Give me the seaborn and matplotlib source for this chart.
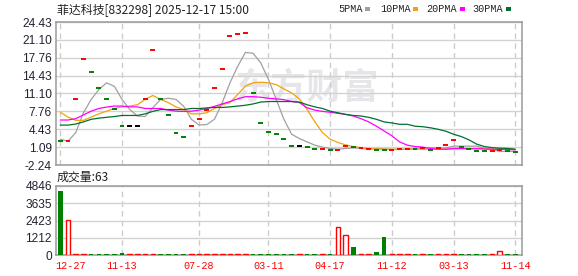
import numpy as np
import pandas as pd
import matplotlib
matplotlib.use("Agg")
import matplotlib.pyplot as plt
import matplotlib.transforms as mtransforms
import seaborn as sns
from matplotlib.patches import Rectangle

sns.set_theme(style="white")
plt.rcParams['font.family'] = ['Liberation Sans', 'DejaVu Sans']

# ---------------- data ----------------
close = [2.15, 2.15, 10.11, 17.52, 15.11, 12.15, 10.11, 8.13, 5.11, 5.11,
         5.11, 10.11, 19.18, 10.11, 7.15, 3.81, 3.07, 5.11, 6.28, 8.0,
         12.2, 15.67, 21.83, 22.14, 22.33, 11.28, 5.66, 3.99, 3.63, 2.57,
         1.22, 1.22, 1.15, 0.66, 0.66, 0.48, 0.48, 1.28, 1.1, 0.9,
         0.66, 0.48, 0.48, 0.48, 0.66, 0.66, 0.66, 0.85, 0.48, 0.85,
         1.4, 2.33, 1.2, 0.66, 0.29, 0.29, 0.29, 0.5, 0.3, 0.1]
kind = ['g', 'r', 'r', 'r', 'g', 'g', 'g', 'g', 'g', 'k',
        'k', 'r', 'r', 'g', 'g', 'g', 'g', 'r', 'r', 'r',
        'r', 'r', 'r', 'r', 'r', 'g', 'g', 'g', 'g', 'g',
        'g', 'k', 'g', 'g', 'r', 'g', 'r', 'r', 'g', 'r',
        'r', 'g', 'g', 'r', 'r', 'r', 'g', 'r', 'g', 'r',
        'r', 'r', 'g', 'g', 'g', 'g', 'r', 'r', 'g', 'g']
ma5 = [2.57, 2.2, 3.8, 7.5, 9.98, 11.83, 13.07, 12.45, 10.0, 8.13,
       6.9, 6.8, 8.44, 10.0, 10.2, 10.0, 8.7, 6.28, 5.22, 5.3,
       6.3, 9.37, 13.07, 16.15, 18.75, 18.6, 16.8, 13.7, 10.0, 6.28,
       3.5, 2.7, 2.07, 1.46, 1.09, 0.85, 0.7, 0.85, 0.95, 0.85,
       0.7, 0.85, 0.75, 0.66, 0.66, 0.7, 0.8, 0.95, 0.95, 0.95,
       0.95, 1.28, 1.28, 1.28, 1.28, 0.85, 0.6, 0.29, 0.29, 0.29]
ma10 = [7.6, 6.7, 6.09, 6.09, 6.7, 7.3, 7.8, 8.3, 8.6, 8.75,
        9.0, 10.0, 10.72, 10.0, 9.4, 8.6, 8.1, 7.3, 7.3, 7.5,
        8.3, 9.0, 9.4, 10.9, 12.45, 13.1, 13.2, 13.1, 12.75, 11.96,
        11.2, 10.1, 8.13, 5.84, 3.8, 2.57, 1.96, 1.52, 1.2, 1.0,
        0.85, 0.75, 0.7, 0.7, 0.7, 0.7, 0.7, 0.7, 0.7, 0.7,
        0.7, 0.75, 0.8, 0.8, 0.8, 0.8, 0.75, 0.7, 0.7, 0.7]
ma20 = [6.15, 6.15, 6.4, 7.1, 7.8, 8.3, 8.56, 8.75, 8.75, 8.6,
        8.6, 8.3, 8.3, 8.3, 8.0, 7.8, 7.75, 7.8, 8.0, 8.3,
        8.7, 9.15, 9.6, 10.1, 10.5, 10.5, 10.4, 10.2, 10.1, 9.95,
        9.6, 9.4, 8.44, 8.0, 7.76, 7.6, 7.4, 7.2, 6.9, 6.4,
        5.8, 5.0, 4.1, 3.2, 2.07, 1.46, 1.2, 1.1, 0.85, 0.7,
        0.7, 0.85, 0.85, 0.8, 0.8, 0.75, 0.7, 0.7, 0.65, 0.6]
ma30 = [5.2, 5.2, 5.4, 5.8, 6.28, 6.5, 6.65, 6.8, 7.0, 7.0,
        7.0, 7.3, 7.76, 8.1, 8.1, 8.1, 8.1, 8.3, 8.3, 8.4,
        8.5, 8.5, 8.6, 8.75, 8.9, 9.15, 9.5, 9.6, 9.6, 9.6,
        9.6, 9.5, 9.0, 8.6, 8.3, 7.8, 7.5, 7.2, 7.0, 6.9,
        6.65, 6.28, 5.8, 5.6, 5.35, 5.35, 5.0, 4.9, 4.7, 4.42,
        4.06, 3.5, 3.07, 2.45, 1.65, 1.2, 1.0, 0.9, 0.85, 0.7]
vol = [4475, 2430, 40, 40, 40, 40, 40, 40, 150, 40,
       40, 40, 40, 40, 40, 40, 40, 40, 40, 40,
       40, 40, 40, 40, 40, 40, 40, 40, 40, 40,
       40, 40, 40, 40, 40, 40, 1940, 1380, 560, 40,
       40, 210, 1260, 40, 40, 40, 40, 40, 40, 40,
       40, 40, 40, 40, 40, 40, 40, 280, 40, 63]
x_labels = ['12-27', '11-13', '07-28', '03-11', '04-17', '11-12', '03-13', '11-14']
x_label_idx = [0, 8, 18, 27, 35, 43, 51, 59]
price_ticks = [-2.24, 1.09, 4.43, 7.76, 11.10, 14.43, 17.76, 21.10, 24.43]
price_tick_labels = ['-2.24', '1.09', '4.43', '7.76', '11.10', '14.43', '17.76', '21.10', '24.43']
vol_ticks = [0, 1212, 2423, 3635, 4846]
title = '菲达科技[832298] 2025-12-17 15:00'
vol_title = '成交量:63'
legend_names = ['5PMA', '10PMA', '20PMA', '30PMA']

# ---------------- styles ----------------
c_ma = ['#a0a0a0', '#f0a30a', '#ff00ff', '#00702e']
c_kind = {'r': '#ff0000', 'g': '#008000', 'k': '#000000'}
spine_c = '#9a9a9a'
grid_c = '#d2d2d2'
tick_c = '#222233'

n = len(close)
df = pd.DataFrame({'idx': np.arange(n), 'close': close, 'kind': kind,
                   'ma5': ma5, 'ma10': ma10, 'ma20': ma20, 'ma30': ma30,
                   'vol': vol})
df['vkind'] = np.where(df['kind'] == 'g', 'down', 'up')

W, H = 578, 276
fig = plt.figure(figsize=(W / 100, H / 100), dpi=100)
fig.patch.set_facecolor('white')
ax = fig.add_axes([56 / W, 1 - 165 / H, 466 / W, 143 / H])
axv = fig.add_axes([56 / W, 1 - 255 / H, 466 / W, 69 / H])

xlim = (-0.56, 59.88)

# watermark
ax.text(0.54, 0.535, '东方财富', transform=ax.transAxes, ha='center', va='center',
        fontsize=26, fontweight='bold', color='#e6e6ea', zorder=0,
        family=['Noto Sans CJK SC', 'DejaVu Sans'])

# moving averages
for col, c in zip(['ma5', 'ma10', 'ma20', 'ma30'], c_ma):
    sns.lineplot(data=df, x='idx', y=col, ax=ax, color=c, linewidth=0.9, zorder=3)

# candles (flat dashes)
ax.hlines(df['close'], df['idx'] - 0.32, df['idx'] + 0.32,
          colors=[c_kind[k] for k in df['kind']], linewidth=1.4, zorder=4)

ax.set_xlim(*xlim)
ax.set_ylim(-2.24, 24.43)
ax.set_yticks(price_ticks)
ax.set_yticklabels(price_tick_labels)
ax.set_xticks(x_label_idx)
ax.tick_params(axis='x', labelbottom=False, length=0)
ax.tick_params(axis='y', length=0, pad=3, labelsize=8.6, labelcolor=tick_c)
ax.yaxis.grid(True, color=grid_c, linewidth=1)
ax.xaxis.grid(True, color='#cccccc', linewidth=1, linestyle=(0, (4, 3)))
ax.set_xlabel('')
ax.set_ylabel('')
for s in ax.spines.values():
    s.set_color(spine_c)
    s.set_linewidth(1.1)
ax.set_axisbelow(True)

# volume
sns.barplot(data=df, x='idx', y='vol', hue='vkind',
            palette={'up': '#ff0000', 'down': '#008000'},
            native_scale=True, width=0.6, dodge=False, errorbar=None,
            legend=False, saturation=1, ax=axv, zorder=3)
for p in axv.patches:
    fc = p.get_facecolor()
    if fc[0] > 0.9 and fc[1] < 0.1:
        p.set_facecolor('white')
        p.set_edgecolor('#ff0000')
        p.set_linewidth(1.0)
    else:
        p.set_edgecolor('none')

axv.set_xlim(*xlim)
axv.set_ylim(0, 4846)
axv.set_yticks(vol_ticks)
axv.set_yticklabels([str(v) for v in vol_ticks])
axv.set_xticks(x_label_idx)
axv.set_xticklabels(x_labels)
axv.tick_params(axis='x', length=0, pad=4, labelsize=7.3, labelcolor='#ff0000')
xtl = axv.get_xticklabels()
for t in xtl:
    t.set_family(['Liberation Mono', 'DejaVu Sans Mono'])
# first label is clamped to start at the panel's left edge
xtl[0].set_horizontalalignment('left')
xtl[0].set_transform(xtl[0].get_transform() +
                     mtransforms.ScaledTranslation(-5 / 100, 0, fig.dpi_scale_trans))
axv.tick_params(axis='y', length=0, pad=3, labelsize=8.6, labelcolor=tick_c)
axv.yaxis.grid(True, color=grid_c, linewidth=1)
axv.xaxis.grid(True, color='#cccccc', linewidth=1, linestyle=(0, (4, 3)))
axv.set_xlabel('')
axv.set_ylabel('')
for s in axv.spines.values():
    s.set_color(spine_c)
    s.set_linewidth(1.1)
axv.set_axisbelow(True)

# titles
cjk = ['Noto Sans CJK SC', 'DejaVu Sans']
fig.text(57 / W, 1 - 10 / H, title, ha='left', va='center', fontsize=8.6,
         color='#222222', family=cjk)
fig.text(57 / W, 1 - 177 / H, vol_title, ha='left', va='center', fontsize=8.6,
         color='#222222', family=cjk)

# legend
leg_text_x = [338, 380, 426, 472]
leg_box_x = [365, 413, 460, 506]
for name, tx, bx, c in zip(legend_names, leg_text_x, leg_box_x, c_ma):
    fig.text(tx / W, 1 - 9 / H, name, ha='left', va='center', fontsize=7.3,
             color='#222222', family=['Liberation Mono', 'DejaVu Sans Mono'])
    fig.patches.append(Rectangle((bx / W, 1 - 10.5 / H), 5 / W, 3 / H,
                                 transform=fig.transFigure, facecolor=c,
                                 edgecolor='none'))

fig.savefig('out.png', dpi=100)
